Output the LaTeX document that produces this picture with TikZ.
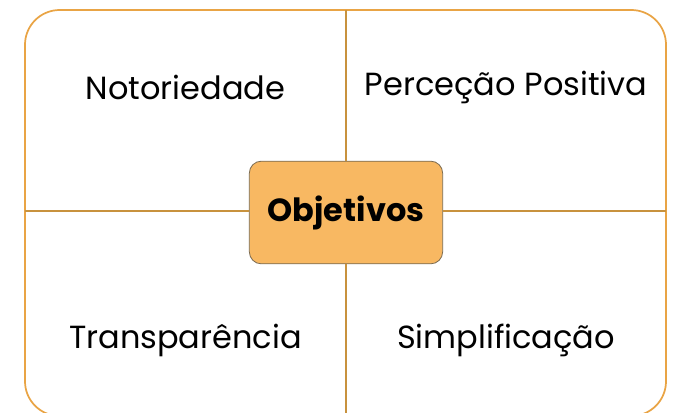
\documentclass[tikz,border=0pt]{standalone}
\usepackage{fontspec}
\setmainfont{Poppins}
\definecolor{laranja}{HTML}{F8B862}
\definecolor{borda}{HTML}{E9A445}
\definecolor{divisor}{HTML}{C8923E}
\definecolor{contorno}{HTML}{7A6A50}
\begin{document}
\begin{tikzpicture}[x=0.75pt,y=-0.75pt,
	rotulo/.style={font=\fontsize{24}{28}\selectfont,text=black},
	centro/.style={draw=contorno,fill=laranja,line width=0.6pt,rounded corners=9pt,minimum width=145pt,minimum height=77pt,font=\fontsize{24}{28}\selectfont\bfseries},
	divide/.style={divisor,line width=1pt}]
	\useasboundingbox (0,0) rectangle (677,412);
	\draw[borda,line width=1.3pt,rounded corners=26pt] (25,10) rectangle (666,416);
	\node[centro] (obj) at (346,212.5) {Objetivos};
	\coordinate (cima) at (346,10); \coordinate (baixo) at (346,416);
	\coordinate (esq) at (25,211); \coordinate (dir) at (666,211);
	\draw[divide] (cima)--(obj.north) (obj.south)--(baixo);
	\draw[divide] (esq)--(obj.west|-esq) (obj.east|-dir)--(dir);
	\node[rotulo] (noto) at (185.5,87) {Notoriedade};
	\node[rotulo] (perc) at (506,87) {Perceção Positiva};
	\node[rotulo] (trans) at (185.5,340) {Transparência};
	\node[rotulo] (simp) at (506,340) {Simplificação};
\end{tikzpicture}
\end{document}
